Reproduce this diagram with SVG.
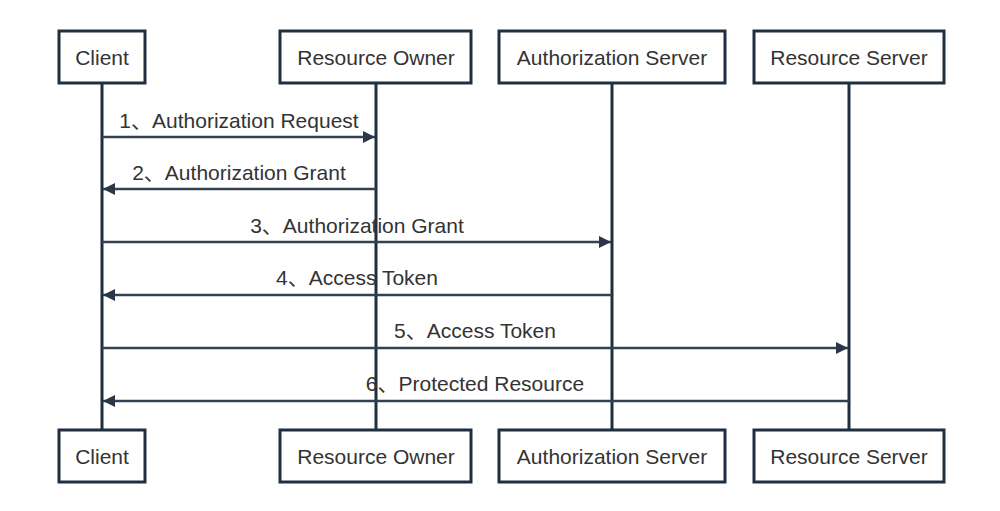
<svg xmlns="http://www.w3.org/2000/svg" width="1000" height="511" viewBox="0 0 1000 511">
  <style>
    .box { fill: #ffffff; stroke: #1f2f40; stroke-width: 3; }
    .life { stroke: #1f2f40; stroke-width: 3; fill: none; }
    .msg { stroke: #34414f; stroke-width: 2.5; fill: none; }
    .name { font-family: "Liberation Sans", Arial, sans-serif; font-size: 21px; fill: #333333; text-anchor: middle; }
    .lbl { font-family: "Liberation Sans", Arial, "Noto Sans CJK SC", sans-serif; font-size: 21px; fill: #333333; text-anchor: middle; }
  </style>
  <defs>
    <marker id="arr" viewBox="0 0 12 12" refX="12" refY="6" markerWidth="12" markerHeight="12" markerUnits="userSpaceOnUse" orient="auto">
      <path d="M0,0 L12,6 L0,12 Z" fill="#2a3748"/>
    </marker>
  </defs>
  <rect width="1000" height="511" fill="#ffffff"/>

  <g id="lifelines">
    <line class="life" x1="102" y1="84" x2="102" y2="429"/>
    <line class="life" x1="376" y1="84" x2="376" y2="429"/>
    <line class="life" x1="612" y1="84" x2="612" y2="429"/>
    <line class="life" x1="849" y1="84" x2="849" y2="429"/>
  </g>

  <g id="connectors">
    <line class="msg" x1="102" y1="137" x2="375" y2="137" marker-end="url(#arr)"/>
    <text class="lbl" x="239" y="128">1、Authorization Request</text>
    <line class="msg" x1="376" y1="189" x2="103" y2="189" marker-end="url(#arr)"/>
    <text class="lbl" x="239" y="180">2、Authorization Grant</text>
    <line class="msg" x1="102" y1="242" x2="611" y2="242" marker-end="url(#arr)"/>
    <text class="lbl" x="357" y="233">3、Authorization Grant</text>
    <line class="msg" x1="612" y1="295" x2="103" y2="295" marker-end="url(#arr)"/>
    <text class="lbl" x="357" y="285">4、Access Token</text>
    <line class="msg" x1="102" y1="348" x2="848" y2="348" marker-end="url(#arr)"/>
    <text class="lbl" x="475" y="338">5、Access Token</text>
    <line class="msg" x1="849" y1="401" x2="103" y2="401" marker-end="url(#arr)"/>
    <text class="lbl" x="475" y="391">6、Protected Resource</text>
  </g>

  <g id="client-top"><rect class="box" x="59" y="31" width="86" height="52"/><text class="name" x="102" y="65">Client</text></g>
  <g id="owner-top"><rect class="box" x="280" y="31" width="191" height="52"/><text class="name" x="376" y="65">Resource Owner</text></g>
  <g id="authserver-top"><rect class="box" x="499" y="31" width="226" height="52"/><text class="name" x="612" y="65">Authorization Server</text></g>
  <g id="resserver-top"><rect class="box" x="754" y="31" width="190" height="52"/><text class="name" x="849" y="65">Resource Server</text></g>

  <g id="client-bottom"><rect class="box" x="59" y="430" width="86" height="52"/><text class="name" x="102" y="464">Client</text></g>
  <g id="owner-bottom"><rect class="box" x="280" y="430" width="191" height="52"/><text class="name" x="376" y="464">Resource Owner</text></g>
  <g id="authserver-bottom"><rect class="box" x="499" y="430" width="226" height="52"/><text class="name" x="612" y="464">Authorization Server</text></g>
  <g id="resserver-bottom"><rect class="box" x="754" y="430" width="190" height="52"/><text class="name" x="849" y="464">Resource Server</text></g>
</svg>
